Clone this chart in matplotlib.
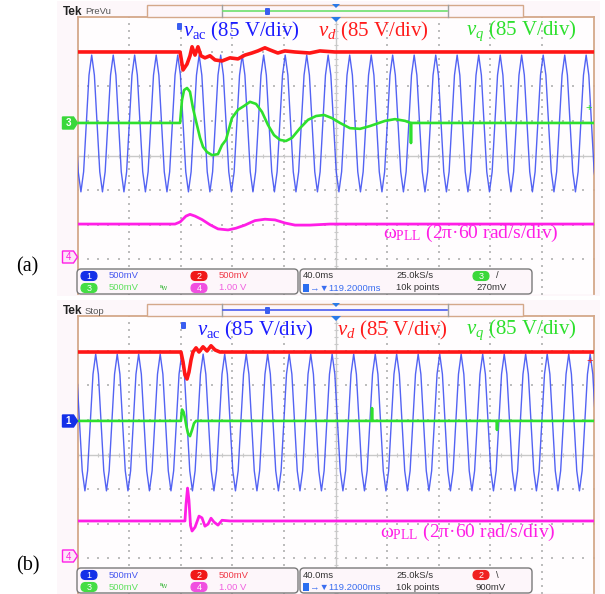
# -*- coding: utf-8 -*-
"""
Reface captura de osciloscop (Tek) cu doua paneluri: (a) si (b).
Urme: v_ac (albastru), v_d (rosu), v_q (verde), omega_PLL (magenta).
Timp in ms (40 ms/div), amplitudini in diviziuni fata de centrul ecranului.
"""

import numpy as np
import matplotlib.pyplot as plt
from matplotlib.patches import Rectangle, FancyBboxPatch, Polygon

plt.rcParams['font.family'] = ['Liberation Sans', 'DejaVu Sans']
plt.rcParams['mathtext.fontset'] = 'custom'
plt.rcParams['mathtext.rm'] = 'Liberation Serif'
plt.rcParams['mathtext.it'] = 'Liberation Serif:italic'

# ---------------------------------------------------------------------------
# Date
# ---------------------------------------------------------------------------
# v_d (rosu)
VD_A_T = [0, 79.5, 81.8, 84.9, 87.2, 88.8, 91.1, 93.4, 95.7, 98.8, 102.7, 106.6,
          112.0, 118.2, 124.4, 129.8, 135.2, 139.8, 145.3, 149.1, 155.3, 160.7,
          168.5, 180.1, 187.9, 199.5, 400]
VD_A_Y = [2.99, 2.99, 2.47, 2.64, 2.88, 3.14, 2.90, 3.14, 2.88, 2.82, 2.88, 2.76,
          2.73, 2.82, 2.79, 2.90, 2.96, 3.02, 3.11, 3.05, 2.96, 3.02,
          2.99, 2.96, 3.02, 2.99, 2.99]
VD_B_T = [0, 80.2, 81.8, 83.3, 84.9, 86.4, 88.0, 89.5, 91.9, 94.2, 97.3, 100.4,
          103.5, 106.6, 110.4, 400]
VD_B_Y = [2.96, 2.96, 2.67, 2.30, 2.18, 2.38, 2.73, 2.96, 3.08, 2.96, 3.11, 2.99,
          3.14, 3.02, 2.96, 2.96]

# v_q (verde)
VQ_A_T = [0, 79.5, 81.0, 82.6, 84.9, 87.2, 89.5, 92.6, 95.0, 97.3, 100.4, 104.3,
          108.9, 112.0, 115.1, 119.7, 124.4, 129.1, 133.7, 138.4, 143.0, 147.7,
          152.3, 157.0, 161.6, 166.3, 172.5, 178.7, 184.9, 191.1, 197.3, 203.5,
          211.2, 219.0, 226.7, 238.4, 246.1, 253.9, 258.3, 258.5, 258.7, 265.5, 400]
VQ_A_Y = [0.94, 0.94, 1.60, 1.89, 1.95, 1.84, 1.37, 0.88, 0.51, 0.25, 0.10, 0.01,
          0.04, 0.30, 0.45, 1.08, 1.32, 1.43, 1.55, 1.49, 1.26, 0.88,
          0.59, 0.45, 0.42, 0.51, 0.79, 1.03, 1.14, 1.17, 1.08, 0.94,
          0.79, 0.77, 0.85, 1.00, 1.05, 1.00, 0.94, 0.36, 0.94, 0.94, 0.94]
VQ_B_T = [0, 80.2, 81.0, 82.2, 83.3, 84.5, 85.7, 87.2, 88.8, 90.3, 91.9,
          228.2, 228.3, 228.4, 325.1, 325.2, 325.3, 400]
VQ_B_Y = [0.97, 0.97, 1.30, 1.23, 1.05, 0.80, 0.60, 0.53, 0.71, 0.90, 0.97,
          0.97, 1.34, 0.97, 0.97, 0.71, 0.97, 0.97]

# omega_PLL (magenta)
WP_A_T = [0, 75.6, 79.5, 84.1, 87.2, 91.1, 96.5, 102.7, 108.9, 116.7, 122.8,
          129.8, 137.6, 145.3, 153.1, 160.9, 168.6, 180.2, 195.7, 400]
WP_A_Y = [-1.98, -1.98, -1.92, -1.75, -1.70, -1.75, -1.85, -2.00, -2.12, -2.15,
          -2.10, -2.01, -1.88, -1.84, -1.86, -1.95, -2.01, -2.01, -1.98, -1.98]
WP_B_T = [0, 83.3, 84.1, 85.3, 86.4, 87.6, 88.8, 91.1, 94.2, 96.5, 98.8, 101.2,
          103.5, 105.8, 108.9, 112.0, 118.2, 400]
WP_B_Y = [-1.92, -1.92, -1.45, -0.97, -1.32, -2.05, -2.21, -2.10, -1.78, -1.83,
          -2.07, -2.01, -1.84, -1.95, -2.04, -1.90, -1.92, -1.92]

# v_ac (albastru): momentele varfurilor + forma unei perioade (8 esantioane)
VAC_PEAKS_A = [-5.7, 11.0, 27.7, 44.3, 61.0, 77.7, 94.3, 111.0, 127.7, 144.3,
               161.0, 177.7, 194.3, 211.0, 227.7, 244.3, 261.0, 277.7, 294.3,
               311.0, 327.7, 344.3, 361.0, 377.7, 394.3]
VAC_PEAKS_B = [-2.6, 14.1, 30.8, 47.4, 64.1, 80.8, 97.4, 114.1, 130.8, 147.4,
               164.1, 180.8, 197.4, 214.1, 230.8, 247.4, 264.1, 280.8, 297.4,
               314.1, 330.8, 347.4, 364.1, 380.8, 397.4]
VAC_CYCLE = [2.90, 2.32, 0.93, -0.47, -1.05, -0.47, 0.93, 2.32]

# texte din bara de stare
STATUS_TRIG = {"a": ("3", "#3ad83a", "/", "270mV"),
               "b": ("2", "#f02020", "\\", "900mV")}

# ---------------------------------------------------------------------------
# Geometrie (pixeli din imagine)
# ---------------------------------------------------------------------------
W, H = 605, 594
SCR_X0, SCR_X1 = 77.5, 593.5
PANEL_DY = 299          # deplasarea panelului (b) fata de (a)
SCR_Y0, SCR_Y1 = 17, 294

C_BLUE = "#4052f2"
C_RED = "#ff1616"
C_GREEN = "#2ee02e"
C_MAG = "#ff1ee6"
C_TAN = "#d4a88a"

fig = plt.figure(figsize=(W / 100, H / 100), dpi=100)

bg = fig.add_axes([0, 0, 1, 1], zorder=0)
bg.set_xlim(0, W)
bg.set_ylim(H, 0)
bg.axis("off")

ov = fig.add_axes([0, 0, 1, 1], zorder=5)
ov.set_xlim(0, W)
ov.set_ylim(H, 0)
ov.axis("off")
ov.patch.set_alpha(0)


def vac_curve(peaks):
    tt, yy = [], []
    for i, p in enumerate(peaks):
        per = (peaks[i + 1] - p) if i + 1 < len(peaks) else (p - peaks[i - 1])
        for k, v in enumerate(VAC_CYCLE):
            tt.append(p + k * per / len(VAC_CYCLE))
            yy.append(v)
    tt.append(peaks[-1] + per)
    yy.append(VAC_CYCLE[0])
    return tt, yy


def screen_axes(dy):
    y0, y1 = SCR_Y0 + dy, SCR_Y1 + dy
    ax = fig.add_axes([SCR_X0 / W, 1 - y1 / H, (SCR_X1 - SCR_X0) / W, (y1 - y0) / H],
                      zorder=2)
    ax.set_xlim(0, 400)
    ax.set_ylim(-4, 4)
    ax.set_facecolor("#fffdfe")
    ax.set_xticks([])
    ax.set_yticks([])
    for s in ["left", "top", "right"]:
        ax.spines[s].set_color(C_TAN)
        ax.spines[s].set_linewidth(1.3)
    ax.spines["bottom"].set_visible(False)

    # graticula cu puncte
    gx = np.arange(0, 400.1, 8)
    for gy in [-3, -2, -1, 1, 2, 3]:
        ax.scatter(gx, np.full_like(gx, gy), s=1.0, marker="s", color="#bdbdbd",
                   linewidths=0, zorder=1)
    gyv = np.arange(-4, 4.01, 0.2)
    for xv in [40, 80, 120, 160, 240, 280, 320, 360]:
        ax.scatter(np.full_like(gyv, xv), gyv, s=1.0, marker="s", color="#bdbdbd",
                   linewidths=0, zorder=1)
    ax.axhline(0, color="#c9c9c9", lw=1, zorder=1)
    ax.axvline(200, color="#c9c9c9", lw=1, zorder=1)
    ax.scatter(gx, np.zeros_like(gx), s=10, marker="|", color="#c9c9c9",
               linewidths=0.8, zorder=1)
    ax.scatter(np.full_like(gyv, 200), gyv, s=10, marker="_", color="#c9c9c9",
               linewidths=0.8, zorder=1)
    return ax


def tag(x1, y, num, color, filled=True):
    pts = [(x1 - 15, y - 6), (x1 - 4, y - 6), (x1, y), (x1 - 4, y + 6), (x1 - 15, y + 6)]
    if filled:
        ov.add_patch(Polygon(pts, closed=True, fc=color, ec=color, lw=1, zorder=6))
        ov.text(x1 - 9, y + 0.5, num, color="white", fontsize=7, fontweight="bold",
                ha="center", va="center", zorder=7)
    else:
        ov.add_patch(Polygon(pts, closed=True, fc="#fde6f8", ec=color, lw=1, zorder=6))
        ov.text(x1 - 9, y + 0.5, num, color=color, fontsize=7,
                ha="center", va="center", zorder=7)


def pill(xc, yc, num, color):
    ov.add_patch(FancyBboxPatch((xc - 8, yc - 4.5), 16, 9,
                                boxstyle="round,pad=0,rounding_size=4.5",
                                fc=color, ec=color, lw=0.8, zorder=7))
    ov.text(xc, yc + 0.3, num, color="white", fontsize=6.5, ha="center",
            va="center", zorder=8)


def panel(key, dy, state, vd, vq, wp, peaks, tag_info, vac_x, vd_x, t_x, w_x):
    # fond captura
    bg.add_patch(Rectangle((57, dy + 1), 543, 295, fc="#fdf7fa", ec="none"))

    ax = screen_axes(dy)
    tt, yy = vac_curve(peaks)
    ax.plot(tt, yy, color=C_BLUE, lw=1.0, alpha=0.9, zorder=3)
    ax.plot(vd[0], vd[1], color=C_RED, lw=2.6, zorder=4)
    ax.plot(vq[0], vq[1], color=C_GREEN, lw=1.9, zorder=4)
    ax.plot(wp[0], wp[1], color=C_MAG, lw=2.0, zorder=4)

    # antet: Tek + bara de inregistrare
    ov.text(63, dy + 12, "Tek", fontsize=8.5, fontweight="bold", color="#222",
            va="center")
    ov.text(85, dy + 12, state, fontsize=6.8, color="#555", va="center")
    ov.add_patch(Rectangle((147, dy + 5), 376, 12, fc="#fdf6fa", ec=C_TAN, lw=1,
                           zorder=6))
    ov.plot([222, 222], [dy + 5, dy + 17], color="#a0a0a0", lw=1, zorder=7)
    ov.plot([448, 448], [dy + 5, dy + 17], color="#a0a0a0", lw=1, zorder=7)
    bar_c = "#6ee06e" if key == "a" else "#4a5cf0"
    ov.plot([223, 447], [dy + 11, dy + 11], color=bar_c, lw=1.2, zorder=7)
    ov.add_patch(FancyBboxPatch((265, dy + 8), 5, 7, boxstyle="round,pad=0,rounding_size=1",
                                fc="#3a5ef0", ec="none", zorder=8))
    ov.add_patch(Polygon([(332, dy + 4), (340, dy + 4), (336, dy + 8)],
                         fc="#2a7ae8", ec="none", zorder=8))
    ov.add_patch(Polygon([(331, dy + 17), (341, dy + 17), (336, dy + 22)],
                         fc="#2a7ae8", ec="none", zorder=8))

    # etichete urme
    ov.add_patch(FancyBboxPatch((t_x, dy + 23), 5, 7, boxstyle="round,pad=0,rounding_size=1",
                                fc="#3a5ef0", ec="none", zorder=8))
    ov.text(vac_x, dy + 31, r"$v_{\mathrm{ac}}$ (85 V/div)", color="#1c1cff",
            fontsize=15, family="Liberation Serif", va="center", zorder=8)
    ov.text(vd_x, dy + 31, r"$v_d$ (85 V/div)", color="#ff1c1c",
            fontsize=15, family="Liberation Serif", va="center", zorder=8)
    ov.text(466, dy + 31, r"$v_q$ (85 V/div)", color="#2ee02e",
            fontsize=15, family="Liberation Serif", va="center", zorder=8)
    ov.text(w_x, dy + 233, r"ω$_{\mathrm{PLL}}$ (2π·60 rad/s/div)", color="#ff1ee6",
            fontsize=14, family="Liberation Serif", va="center", zorder=8)

    # marcaje canale
    num, col, y_tag = tag_info
    tag(SCR_X0, dy + y_tag, num, col, filled=True)
    tag(SCR_X0, dy + 257, "4", C_MAG, filled=False)

    # eticheta panel
    bg.text(16, dy + 267, f"({key})", fontsize=14.5, family="Liberation Serif",
            va="center", color="black")

    # bara de stare
    yb = dy + 269
    ov.add_patch(FancyBboxPatch((77, yb), 221, 25, boxstyle="round,pad=0,rounding_size=4",
                                fc="#fdf6fa", ec="#7a7a7a", lw=1, zorder=6))
    ov.add_patch(FancyBboxPatch((300, yb), 232, 25, boxstyle="round,pad=0,rounding_size=4",
                                fc="#fdf6fa", ec="#7a7a7a", lw=1, zorder=6))
    r1, r2 = yb + 7, yb + 19
    fs = 6.8
    pill(89, r1, "1", "#1430e8")
    ov.text(109, r1, "500mV", color="#4658f0", fontsize=fs, va="center", zorder=8)
    pill(199, r1, "2", "#f01818")
    ov.text(219, r1, "500mV", color="#f03a48", fontsize=fs, va="center", zorder=8)
    pill(89, r2, "3", "#44dd44")
    ov.text(109, r2, "500mV", color="#5ee05e", fontsize=fs, va="center", zorder=8)
    ov.text(160, r2, "ᴮw", color="#44bb44", fontsize=5, va="center", zorder=8)
    pill(199, r2, "4", "#f050e0")
    ov.text(219, r2, "1.00 V", color="#f060e0", fontsize=fs, va="center", zorder=8)

    ov.text(303, r1, "40.0ms", color="#333", fontsize=fs, va="center", zorder=8)
    ov.text(396, r1, "25.0kS/s", color="#333", fontsize=fs, va="center", zorder=8)
    tnum, tcol, tslope, tlev = STATUS_TRIG[key]
    pill(481, r1, tnum, tcol)
    ov.text(496, r1, tslope, color="#333", fontsize=fs, va="center", zorder=8)
    ov.add_patch(Rectangle((303, r2 - 4), 6, 8, fc="#2a6ef0", ec="none", zorder=8))
    ov.text(310, r2, "→▼119.2000ms", color="#3a6ef0", fontsize=fs, va="center",
            zorder=8)
    ov.text(396, r2, "10k points", color="#333", fontsize=fs, va="center", zorder=8)
    ov.text(476, r2, tlev, color="#333", fontsize=fs, va="center", zorder=8)


panel("a", 0, "PreVu", (VD_A_T, VD_A_Y), (VQ_A_T, VQ_A_Y), (WP_A_T, WP_A_Y),
      VAC_PEAKS_A, ("3", "#3ad83a", 123), vac_x=183, vd_x=318, t_x=177, w_x=383)
panel("b", PANEL_DY, "Stop", (VD_B_T, VD_B_Y), (VQ_B_T, VQ_B_Y), (WP_B_T, WP_B_Y),
      VAC_PEAKS_B, ("1", "#1430e8", 122), vac_x=197, vd_x=337, t_x=181, w_x=380)

# mici marcaje pe marginea dreapta
ov.text(589, 108, "+", color=C_GREEN, fontsize=8, ha="center", va="center", zorder=8)
ov.text(590, PANEL_DY + 62, "+", color=C_RED, fontsize=8, ha="center", va="center",
        zorder=8)

fig.savefig("out.png", dpi=100)
